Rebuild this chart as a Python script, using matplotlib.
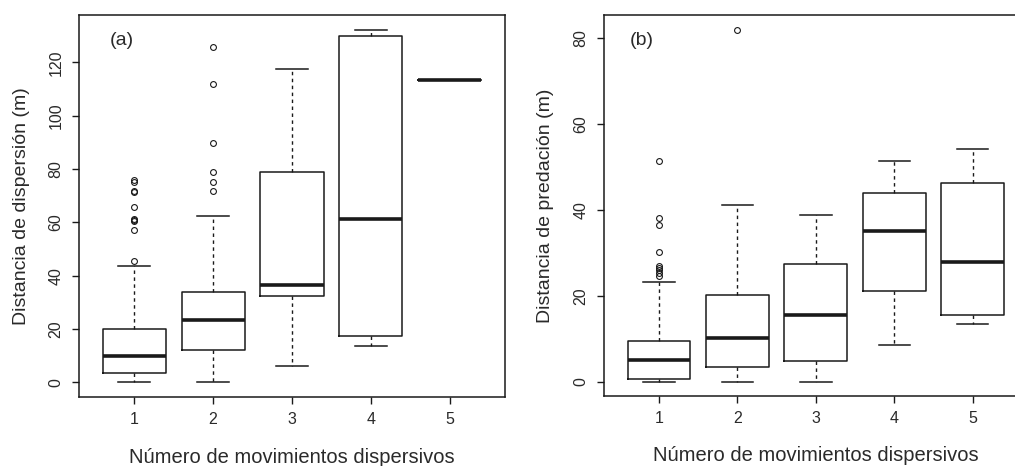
import matplotlib
matplotlib.use('Agg')
import matplotlib.pyplot as plt

plt.rcParams['font.family'] = ['Liberation Sans', 'DejaVu Sans']

groups = [1, 2, 3, 4, 5]
xlabel = 'Número de movimientos dispersivos'

# (a) dispersal distance
a_whislo = [0.0, 0.0, 6.3, 13.5, 113.5]
a_q1 = [3.5, 12.2, 32.3, 17.5, 113.5]
a_med = [10.0, 23.5, 36.6, 61.2, 113.5]
a_q3 = [20.0, 34.0, 79.1, 129.9, 113.5]
a_whishi = [43.5, 62.5, 117.6, 132.1, 113.5]
a_fliers = [
    [45.7, 57.2, 60.5, 60.8, 61.2, 65.7, 71.3, 71.8, 75.3, 75.9],
    [71.7, 75.1, 79.1, 89.9, 112.0, 126.0],
    [], [], [],
]

# (b) predation distance
b_whislo = [0.0, 0.0, 0.0, 8.4, 13.5]
b_q1 = [0.6, 3.3, 4.8, 21.2, 15.4]
b_med = [5.1, 10.2, 15.6, 35.1, 27.8]
b_q3 = [9.5, 20.2, 27.5, 44.0, 46.2]
b_whishi = [23.2, 41.2, 38.7, 51.5, 54.3]
b_fliers = [
    [24.6, 25.3, 25.9, 26.5, 27.0, 30.2, 36.4, 38.0, 51.4],
    [81.9],
    [], [], [],
]

INK = '#1a1a1a'


def make_stats(lo, q1, med, q3, hi, fl):
    return [dict(whislo=lo[i], q1=q1[i], med=med[i], q3=q3[i], whishi=hi[i], fliers=fl[i])
            for i in range(len(med))]


def draw_panel(ax, stats, ylim, yticks, ylabel, tag, ylab_x, tag_x):
    ax.bxp(stats, positions=groups, widths=0.8, showfliers=True,
           boxprops=dict(color=INK, lw=1.1),
           medianprops=dict(color=INK, lw=2.6, solid_capstyle='butt'),
           whiskerprops=dict(color=INK, lw=1.0, linestyle=(0, (2.5, 2.5))),
           capprops=dict(color=INK, lw=1.1),
           capwidths=0.4,
           flierprops=dict(marker='o', markersize=4.2, markerfacecolor='none',
                           markeredgecolor=INK, markeredgewidth=0.8, linestyle='none'))
    ax.set_xlim(0.3, 5.7)
    ax.set_ylim(*ylim)
    ax.set_xticks(groups)
    ax.set_xticklabels([str(g) for g in groups])
    ax.set_yticks(yticks)
    ax.set_yticklabels([str(t) for t in yticks], rotation=90, va='center')
    ax.tick_params(direction='out', length=5, width=1, labelsize=11.5, pad=6,
                   color=INK, labelcolor='#2a2a2a')
    for s in ax.spines.values():
        s.set_linewidth(1.1)
        s.set_color(INK)
    ax.set_ylabel(ylabel, fontsize=14, color='#2a2a2a')
    ax.set_xlabel(xlabel, fontsize=14.5, color='#2a2a2a')
    ax.yaxis.set_label_coords(ylab_x, 0.5)
    ax.yaxis.label.set_va('center')
    ax.xaxis.set_label_coords(0.5, -0.157)
    ax.xaxis.label.set_va('center')
    ax.text(tag_x, 0.934, tag, transform=ax.transAxes, fontsize=14, ha='center',
            va='center', color='#2a2a2a')


fig = plt.figure(figsize=(10.15, 4.66), dpi=100)
ax1 = fig.add_axes([0.0778, 0.148, 0.4197, 0.8197])
ax2 = fig.add_axes([0.5951, 0.150, 0.4174, 0.8176])

draw_panel(ax1, make_stats(a_whislo, a_q1, a_med, a_q3, a_whishi, a_fliers),
           (-5.5, 137.8), [0, 20, 40, 60, 80, 100, 120],
           'Distancia de dispersión (m)', '(a)', -0.134, 0.101)
draw_panel(ax2, make_stats(b_whislo, b_q1, b_med, b_q3, b_whishi, b_fliers),
           (-3.4, 85.4), [0, 20, 40, 60, 80],
           'Distancia de predación (m)', '(b)', -0.139, 0.088)

fig.savefig('out.png', dpi=100)
